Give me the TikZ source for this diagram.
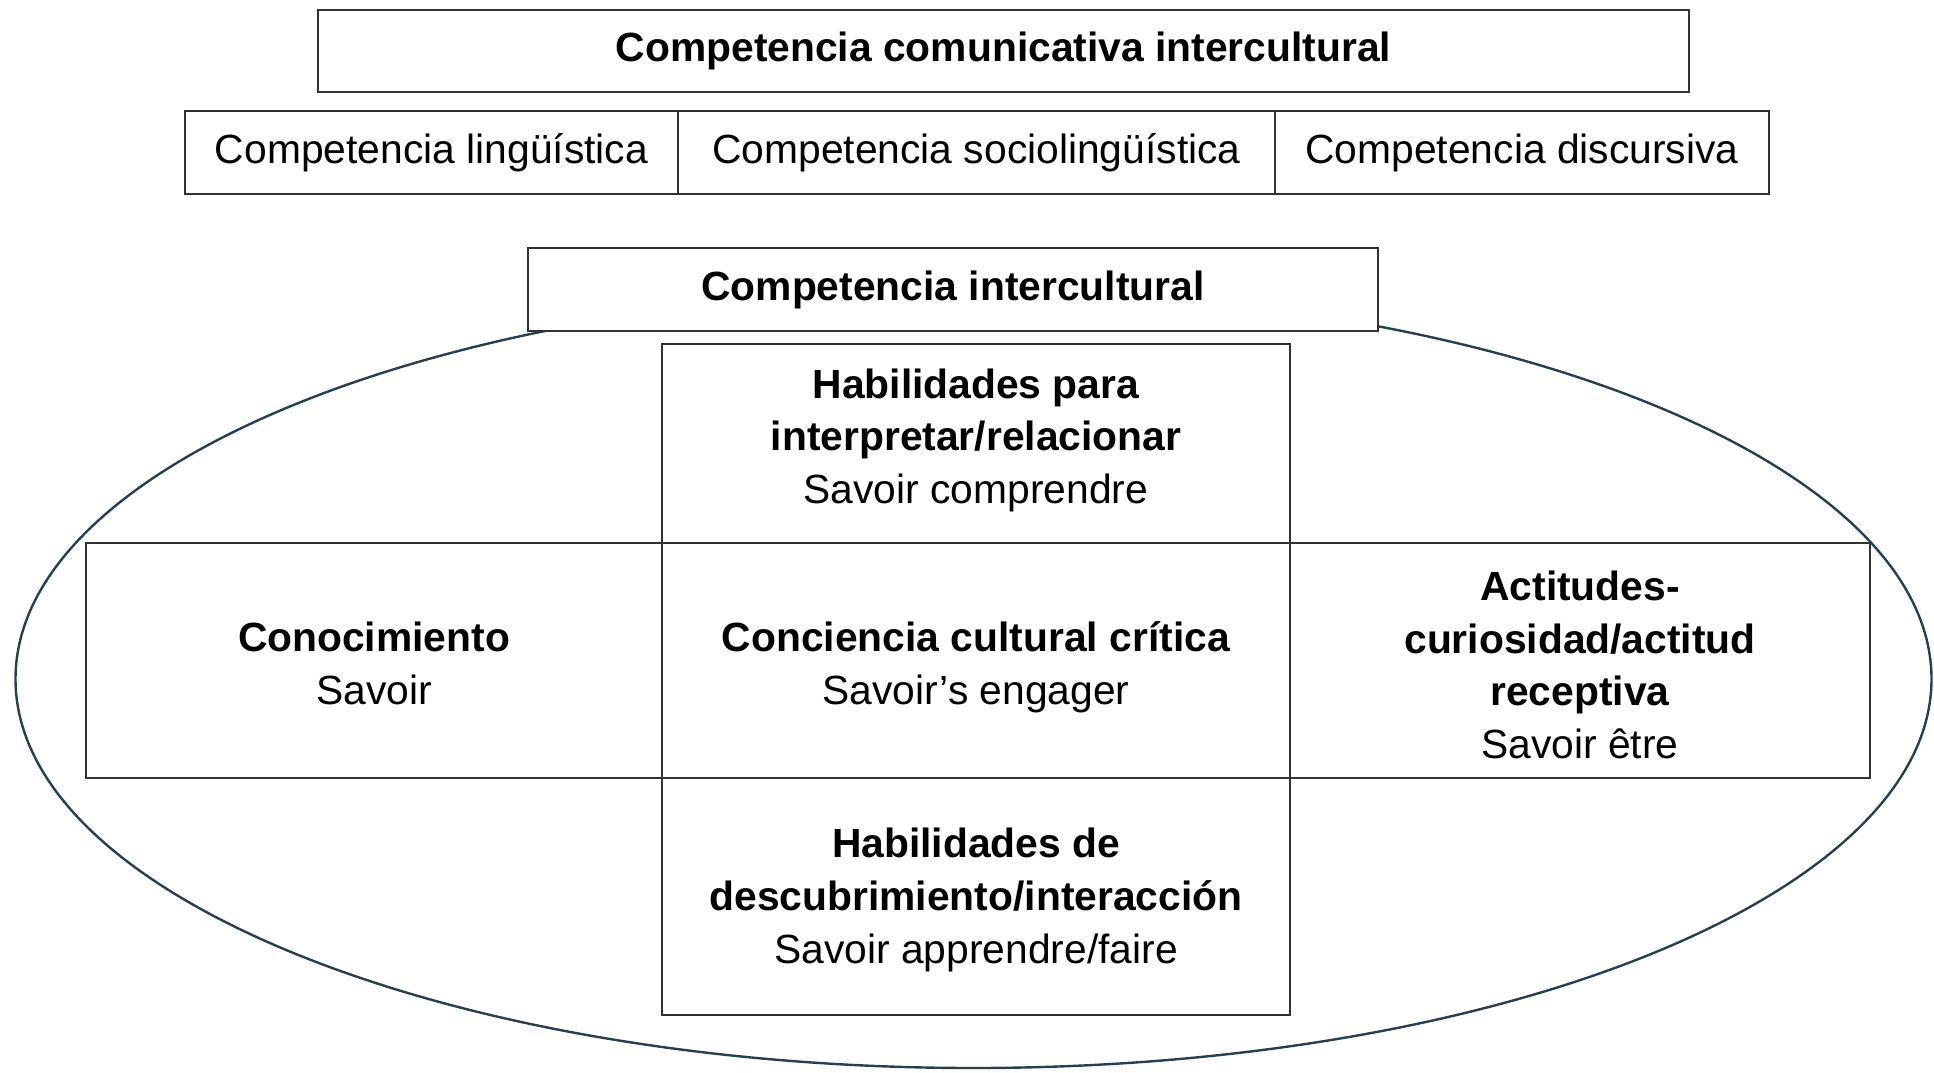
\documentclass[tikz,border=0pt]{standalone}
\usepackage{fontspec}
\setmainfont{Liberation Sans}
\usepackage{xcolor}
\usepackage{tikz}
\definecolor{ringcol}{RGB}{38,64,80}

\begin{document}
\begin{tikzpicture}[x=0.5pt, y=-0.5pt,
  every node/.style={font=\fontsize{20.4}{26.3}\selectfont, align=center, inner sep=0pt, outer sep=0pt},
  cell/.style={draw=black!80, line width=1pt, fill=white},
  lines/.style={text height=#1, text depth=0pt},
  ring/.style={draw=ringcol, line width=1.2pt}]
\useasboundingbox (0,0) rectangle (1934,1072);
\draw[ring] (973.5,679) ellipse [x radius=958, y radius=389];
\node[cell, minimum width=685.5pt, minimum height=41pt] (ccomint) at (1003.5,51) {\textbf{Competencia comunicativa intercultural}};
\node[cell, minimum width=246.5pt, minimum height=41.5pt] (cling) at (431.5,152.5) {Competencia lingüística};
\node[cell, minimum width=298.5pt, minimum height=41.5pt] (csocio) at (976.5,152.5) {Competencia sociolingüística};
\node[cell, minimum width=247pt, minimum height=41.5pt] (cdisc) at (1522,152.5) {Competencia discursiva};
\node[cell, minimum width=425pt, minimum height=41.5pt] (cinter) at (953,289.5) {\textbf{Competencia intercultural}};
\node[cell, lines=60pt, minimum width=314pt, minimum height=99.5pt] (hinterp) at (976,443.5) {\textbf{Habilidades para}\\\textbf{interpretar/relacionar}\\Savoir comprendre};
\node[cell, lines=44pt, minimum width=288pt, minimum height=117.5pt] (conoc) at (374,660.5) {\textbf{Conocimiento}\\Savoir};
\node[cell, lines=44pt, minimum width=314pt, minimum height=117.5pt] (concie) at (976,660.5) {\textbf{Conciencia cultural crítica}\\Savoir’s engager};
\node[cell, lines=98pt, minimum width=290pt, minimum height=117.5pt] (actit) at (1580,660.5) {\textbf{Actitudes-}\\\textbf{curiosidad/actitud}\\\textbf{receptiva}\\Savoir être};
\node[cell, lines=66.6pt, minimum width=314pt, minimum height=118.5pt] (hdesc) at (976,896.5) {\textbf{Habilidades de}\\\textbf{descubrimiento/interacción}\\Savoir apprendre/faire};
\end{tikzpicture}
\end{document}
